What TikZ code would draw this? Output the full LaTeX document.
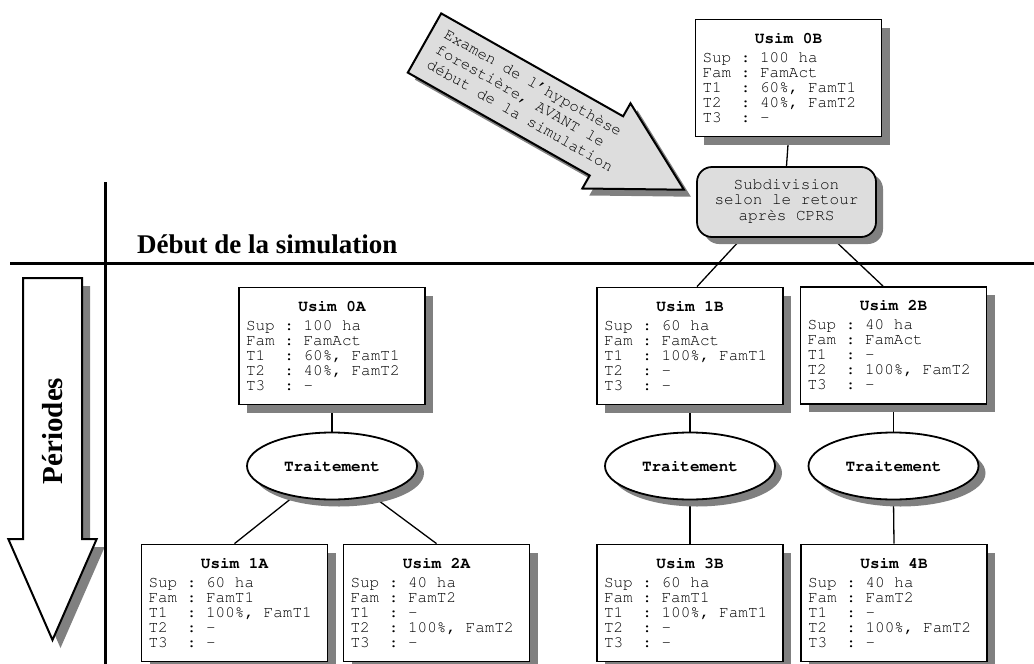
\documentclass[tikz,border=0pt]{standalone}
\usepackage[T1]{fontenc}
\usepackage{fontspec}
\setmainfont{Liberation Serif}
\usetikzlibrary{shapes.geometric,shadows,backgrounds,calc}
\definecolor{shadowgray}{HTML}{808080}
\definecolor{lightfill}{HTML}{DDDDDD}
\newcommand\usimfont{\fontencoding{T1}\fontfamily{pcr}\fontseries{m}\fontshape{n}\fontsize{16}{15}\selectfont}
\newcommand\arrowfont{\fontencoding{T1}\fontfamily{pcr}\fontseries{m}\fontshape{n}\fontsize{16}{17.5}\selectfont}
\newcommand\usimtxt[6]{\usimfont\begin{tabular}{@{}l@{}}\rule{0pt}{13.5pt}\makebox[172pt][c]{\bfseries Usim #1}\\[4pt]#2\\#3\\#4\\#5\\#6\end{tabular}}
\tikzset{
  box/.style={draw, fill=white, line width=1.8pt, minimum width=186pt, minimum height=117pt,
    inner sep=0pt, font=\usimfont,
    general shadow={fill=shadowgray, shadow xshift=8pt, shadow yshift=-8pt}},
  ell/.style={draw, fill=white, ellipse, line width=1.8pt, minimum width=170pt, minimum height=67pt,
    inner sep=0pt, font=\usimfont\bfseries,
    general shadow={fill=shadowgray, shadow xshift=7pt, shadow yshift=-7pt}},
  subbox/.style={draw, fill=lightfill, rounded corners=15pt, line width=1.8pt, minimum width=179pt,
    minimum height=70pt, inner sep=0pt, font=\usimfont,
    general shadow={fill=shadowgray, shadow xshift=7pt, shadow yshift=-7pt}},
  conn/.style={line width=1.3pt},
  bigline/.style={line width=3pt},
  blockarrow/.style={draw, line width=2pt, line join=miter},
}
\begin{document}
\begin{tikzpicture}[x=1pt,y=-1pt]
\useasboundingbox (0,0) rectangle (1034,664);
% top block arrow
\fill[shadowgray, shift={(7,7)}] (441.2,13.4) -- (623.1,116.3) -- (630.5,103.3) -- (683.9,189.7) -- (582.3,188.5) -- (589.7,175.5) -- (407.8,72.6) -- cycle;
\path[blockarrow, fill=lightfill] (441.2,13.4) -- (623.1,116.3) -- (630.5,103.3) -- (683.9,189.7) -- (582.3,188.5) -- (589.7,175.5) -- (407.8,72.6) -- cycle;
\node[font=\arrowfont, rotate=-29.5, anchor=west, inner sep=0pt] (exam) at (436,49.4)
  {\arrowfont\begin{tabular}{@{}l@{}}Examen de l'hypoth\`ese\\foresti\`ere, AVANT le\\d\'ebut de la simulation\end{tabular}};
% Periodes arrow
\fill[shadowgray, shift={(8,8)}] (23,278) -- (82,278) -- (82,539) -- (96.7,539) -- (52.5,640) -- (8.3,539) -- (23,539) -- cycle;
\path[blockarrow, fill=white] (23,278) -- (82,278) -- (82,539) -- (96.7,539) -- (52.5,640) -- (8.3,539) -- (23,539) -- cycle;
\node[font=\fontsize{29}{32}\selectfont\bfseries, rotate=90, anchor=base, inner sep=0pt] (per) at (62,431) {P\'eriodes};
% separators
\coordinate (h0) at (10,263);
\coordinate (h1) at (1034,263);
\coordinate (v0) at (105.5,182);
\coordinate (v1) at (105.5,664);
\draw[bigline] (h0) -- (h1);
\draw[bigline] (v0) -- (v1);
\node[font=\fontsize{27}{30}\selectfont\bfseries, anchor=base west, inner sep=0pt] (debut) at (137,253) {D\'ebut de la simulation};
% nodes
\node[box] (b0B) at (788.5,78) {\usimtxt{0B}{Sup\ :\ 100\ ha}{Fam\ :\ FamAct}{T1\ \ :\ 60\%,\ FamT1}{T2\ \ :\ 40\%,\ FamT2}{T3\ \ :\ -}};
\node[subbox] (sub) at (786.5,202) {\usimfont\begin{tabular}{@{}c@{}}Subdivision\\selon le retour\\apr\`es CPRS\end{tabular}};
\node[box] (b0A) at (332,346) {\usimtxt{0A}{Sup\ :\ 100\ ha}{Fam\ :\ FamAct}{T1\ \ :\ 60\%,\ FamT1}{T2\ \ :\ 40\%,\ FamT2}{T3\ \ :\ -}};
\node[box] (b1B) at (690,346) {\usimtxt{1B}{Sup\ :\ 60\ ha}{Fam\ :\ FamAct}{T1\ \ :\ 100\%,\ FamT1}{T2\ \ :\ -}{T3\ \ :\ -}};
\node[box] (b2B) at (893.5,345.5) {\usimtxt{2B}{Sup\ :\ 40\ ha}{Fam\ :\ FamAct}{T1\ \ :\ -}{T2\ \ :\ 100\%,\ FamT2}{T3\ \ :\ -}};
\node[ell] (e0A) at (332,466) {Traitement};
\node[ell] (e1B) at (690,466) {Traitement};
\node[ell] (e2B) at (893.5,466) {Traitement};
\node[box] (b1A) at (234.5,603) {\usimtxt{1A}{Sup\ :\ 60\ ha}{Fam\ :\ FamT1}{T1\ \ :\ 100\%,\ FamT1}{T2\ \ :\ -}{T3\ \ :\ -}};
\node[box] (b2A) at (436.5,603) {\usimtxt{2A}{Sup\ :\ 40\ ha}{Fam\ :\ FamT2}{T1\ \ :\ -}{T2\ \ :\ 100\%,\ FamT2}{T3\ \ :\ -}};
\node[box] (b3B) at (690,603) {\usimtxt{3B}{Sup\ :\ 60\ ha}{Fam\ :\ FamT1}{T1\ \ :\ 100\%,\ FamT1}{T2\ \ :\ -}{T3\ \ :\ -}};
\node[box] (b4B) at (894,603) {\usimtxt{4B}{Sup\ :\ 40\ ha}{Fam\ :\ FamT2}{T1\ \ :\ -}{T2\ \ :\ 100\%,\ FamT2}{T3\ \ :\ -}};
% connectors
\begin{scope}[on background layer]
\draw[conn] (b0B.south) -- (sub.north);
\draw[conn] ($(sub.south)+(-44.5,0)$) -- ($(b1B.north)+(7,0)$);
\draw[conn] ($(sub.south)+(45.5,0)$) -- ($(b2B.north)+(-10.5,0)$);
\draw[conn] (b0A.south) -- (e0A.north);
\draw[conn] (e0A) -- (b1A.north);
\draw[conn] (e0A) -- (b2A.north);
\draw[conn] (b1B.south) -- (e1B.north);
\draw[conn] (b2B.south) -- (e2B.north);
\draw[conn] (e1B.south) -- (b3B.north);
\draw[conn] (e2B.south) -- (b4B.north);
\end{scope}
\end{tikzpicture}
\end{document}
